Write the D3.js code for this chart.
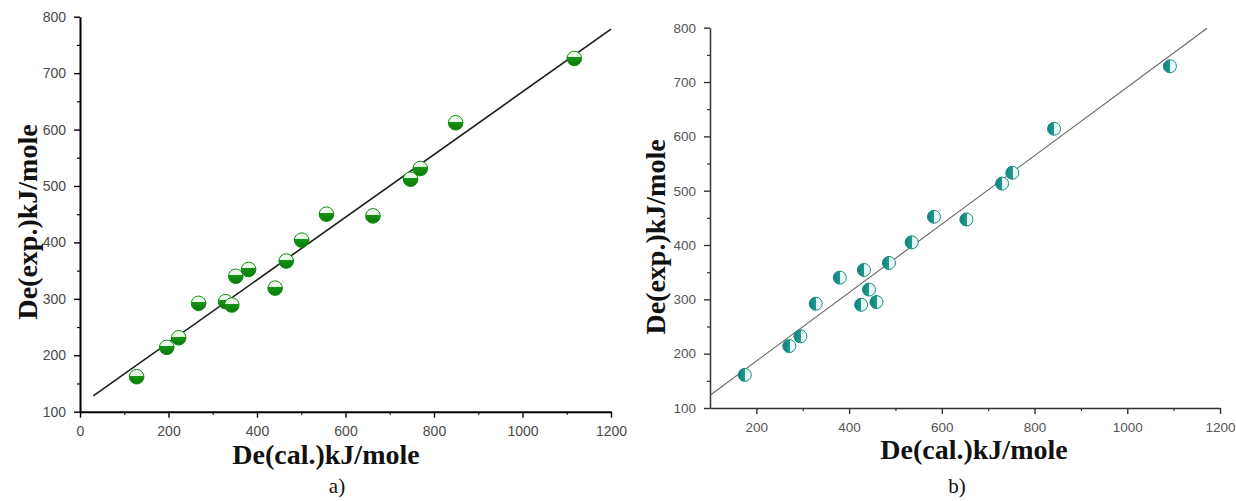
<!DOCTYPE html>
<html><head><meta charset="utf-8">
<script src="https://cdn.jsdelivr.net/npm/d3@7"></script>
<style>
html,body{margin:0;padding:0;background:#fff;}
svg{display:block;}
.tick text{font-family:"Liberation Sans",Arial,sans-serif;}
</style></head>
<body>
<svg id="chart" width="1236" height="501"></svg>
<script>
// Panel a) data
const xCalA = [128, 196, 223, 268, 329, 343, 352, 381, 441, 466, 501, 557, 662, 747, 769, 849, 1117];
const yExpA = [162, 214, 231, 292, 295, 289, 340, 352, 319, 367, 404, 450, 447, 512, 531, 612, 726];
const fitA = [[30, 128], [1200, 778]];
// Panel b) data
const xCalB = [175, 271, 295, 328, 380, 426, 432, 443, 459, 486, 535, 583, 653, 730, 752, 842, 1092];
const yExpB = [161, 214, 232, 292, 340, 290, 354, 318, 295, 367, 405, 452, 447, 513, 533, 614, 729];
const fitB = [[101, 124], [1172, 799]];
// Tick values
const xMajorA = [0, 200, 400, 600, 800, 1000, 1200];
const xMinorA = [100, 300, 500, 700, 900, 1100];
const xMajorB = [200, 400, 600, 800, 1000, 1200];
const xMinorB = [300, 500, 700, 900, 1100];
const yMajor = [100, 200, 300, 400, 500, 600, 700, 800];
const yMinor = [150, 250, 350, 450, 550, 650, 750];
const xTitle = "De(cal.)kJ/mole";
const yTitle = "De(exp.)kJ/mole";
const panelLabels = ["a)", "b)"];

const svg = d3.select("#chart");
const defs = svg.append("defs");
const gA = defs.append("linearGradient").attr("id","gradA").attr("x1",0).attr("y1",0).attr("x2",0).attr("y2",1);
gA.append("stop").attr("offset","0%").attr("stop-color","#f4fbf2");
gA.append("stop").attr("offset","42%").attr("stop-color","#e6f5e2");
gA.append("stop").attr("offset","42%").attr("stop-color","#179417");
gA.append("stop").attr("offset","100%").attr("stop-color","#0a780a");
const gB = defs.append("linearGradient").attr("id","gradB").attr("x1",0).attr("y1",0).attr("x2",1).attr("y2",0);
gB.append("stop").attr("offset","0%").attr("stop-color","#117f77");
gB.append("stop").attr("offset","52%").attr("stop-color","#1f9c92");
gB.append("stop").attr("offset","52%").attr("stop-color","#e2f3f1");
gB.append("stop").attr("offset","100%").attr("stop-color","#f6fbfa");

function panel(cfg) {
  const x = d3.scaleLinear().domain(cfg.xDomain).range(cfg.xRange);
  const y = d3.scaleLinear().domain([100, 800]).range(cfg.yRange);
  const y0 = cfg.yRange[0], x0 = cfg.xRange[0];
  const g = svg.append("g");

  // minor ticks
  g.append("g").attr("transform", `translate(0,${y0})`)
    .call(d3.axisBottom(x).tickValues(cfg.xMinor).tickSize(3).tickFormat(""))
    .call(a => a.select(".domain").remove())
    .call(a => a.selectAll("line").attr("stroke", cfg.axisColor).attr("stroke-width", 1.2));
  g.append("g").attr("transform", `translate(${x0},0)`)
    .call(d3.axisLeft(y).tickValues(yMinor).tickSize(3).tickFormat(""))
    .call(a => a.select(".domain").remove())
    .call(a => a.selectAll("line").attr("stroke", cfg.axisColor).attr("stroke-width", 1.2));

  // major axes
  const ax = g.append("g").attr("transform", `translate(0,${y0})`)
    .call(d3.axisBottom(x).tickValues(cfg.xMajor).tickSize(6).tickSizeOuter(0).tickPadding(8).tickFormat(d3.format("d")));
  const ay = g.append("g").attr("transform", `translate(${x0},0)`)
    .call(d3.axisLeft(y).tickValues(yMajor).tickSize(6).tickSizeOuter(0).tickPadding(8).tickFormat(d3.format("d")));
  [ax, ay].forEach(a => {
    a.select(".domain").attr("stroke", cfg.axisColor).attr("stroke-width", cfg.axisWidth);
    a.selectAll(".tick line").attr("stroke", cfg.axisColor).attr("stroke-width", 1.4);
    a.selectAll(".tick text").attr("fill", cfg.labelColor).attr("font-size", cfg.tickFont);
  });

  // fit line
  g.append("line")
    .attr("x1", x(cfg.fit[0][0])).attr("y1", y(cfg.fit[0][1]))
    .attr("x2", x(cfg.fit[1][0])).attr("y2", y(cfg.fit[1][1]))
    .attr("stroke", cfg.lineColor).attr("stroke-width", cfg.lineWidth);

  // points
  g.selectAll("circle.pt").data(cfg.xs.map((v, i) => [v, cfg.ys[i]])).join("circle")
    .attr("class", "pt")
    .attr("cx", d => x(d[0])).attr("cy", d => y(d[1])).attr("r", cfg.r)
    .attr("fill", cfg.fill).attr("stroke", cfg.stroke).attr("stroke-width", 1);

  // titles
  g.append("text").attr("x", cfg.xt[0]).attr("y", cfg.xt[1]).attr("text-anchor", "middle")
    .attr("font-family", '"Liberation Serif","Times New Roman",serif').attr("font-weight", "bold")
    .attr("font-size", 28).attr("fill", "#111").text(xTitle);
  g.append("text").attr("transform", `translate(${cfg.yt[0]},${cfg.yt[1]}) rotate(-90)`).attr("text-anchor", "middle")
    .attr("font-family", '"Liberation Serif","Times New Roman",serif').attr("font-weight", "bold")
    .attr("font-size", 28).attr("fill", "#111").text(yTitle);
  g.append("text").attr("x", cfg.pl[0]).attr("y", cfg.pl[1]).attr("text-anchor", "middle")
    .attr("font-family", '"Liberation Serif","Times New Roman",serif')
    .attr("font-size", 21).attr("fill", "#111").text(cfg.label);
}

panel({
  xDomain: [0, 1200], xRange: [80, 611], yRange: [411.7, 16.7],
  xMajor: xMajorA, xMinor: xMinorA, fit: fitA, xs: xCalA, ys: yExpA,
  axisColor: "#000", axisWidth: 2, labelColor: "#4a4a4a", tickFont: 14,
  lineColor: "#1a1a1a", lineWidth: 1.6,
  r: 7.3, fill: "url(#gradA)", stroke: "#0e8a0e",
  xt: [326, 464], yt: [37, 222], pl: [337, 493], label: panelLabels[0]
});
panel({
  xDomain: [100, 1200], xRange: [710, 1220], yRange: [408, 27.7],
  xMajor: xMajorB, xMinor: xMinorB, fit: fitB, xs: xCalB, ys: yExpB,
  axisColor: "#333", axisWidth: 1.5, labelColor: "#555", tickFont: 13.5,
  lineColor: "#666", lineWidth: 1.1,
  r: 6.5, fill: "url(#gradB)", stroke: "#168a80",
  xt: [974, 459], yt: [665, 237], pl: [957, 493], label: panelLabels[1]
});
</script>
</body></html>
